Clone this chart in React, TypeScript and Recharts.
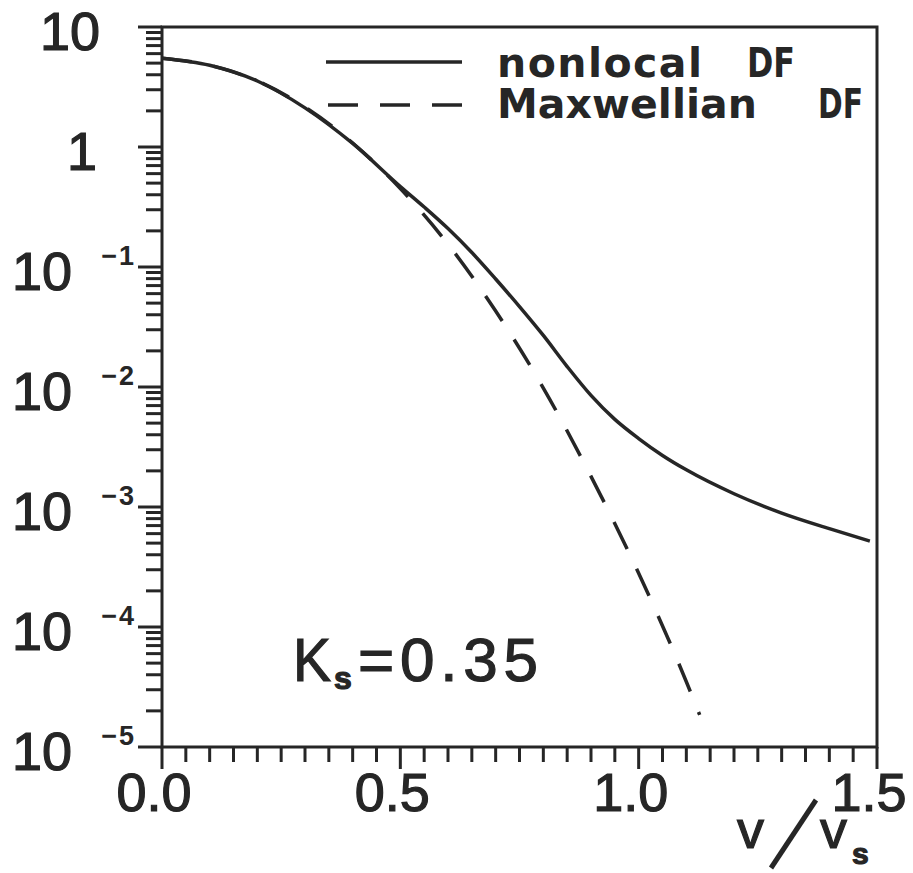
import { LineChart, Line, XAxis, YAxis, ReferenceArea } from 'recharts'

// velocity v/v_s and distribution function values
const nonlocalV = [0, 0.1, 0.2, 0.3, 0.4, 0.5, 0.55, 0.6, 0.65, 0.7, 0.75, 0.8, 0.85, 0.9, 0.95, 1.0, 1.05, 1.1, 1.2, 1.3, 1.4, 1.485]
const nonlocalF = [5.5, 4.8, 3.55, 2.12, 1.07, 0.468, 0.316, 0.209, 0.132, 0.0794, 0.0468, 0.0269, 0.0148, 0.00851, 0.00537, 0.00372, 0.00269, 0.00204, 0.00129, 0.00089, 0.00066, 0.00052]

const maxwellV = [0, 0.1, 0.2, 0.3, 0.4, 0.5, 0.6, 0.7, 0.8, 0.9, 1.0, 1.1, 1.128]
const maxwellF = [5.5, 4.8, 3.55, 2.15, 1.08, 0.45, 0.155, 0.043, 0.0098, 0.0018, 0.00028, 0.000035, 0.0000185]

const xMajorTicks = [0, 0.5, 1.0, 1.5]
const yMajorTicks = [1e-5, 1e-4, 1e-3, 1e-2, 1e-1, 1, 10]
const yMinorMantissas = [2, 3, 4, 5, 6, 7, 8, 9]

const nonlocalData = nonlocalV.map((v, i) => ({ v, f: nonlocalF[i] }))
const maxwellData = maxwellV.map((v, i) => ({ v, f: maxwellF[i] }))

const xTicks = Array.from({ length: 31 }, (_, i) => i * 0.05)
const yTicks = yMajorTicks.flatMap((d, i) =>
  i < yMajorTicks.length - 1 ? [d, ...yMinorMantissas.map((m) => m * d)] : [d]
)

const INK = '#262626'
const NUM_FONT = '"Liberation Sans", Arial, sans-serif'
const TEXT_FONT = '"DejaVu Sans", "Liberation Sans", sans-serif'
const DASH = '30 22'
// a thin outline on the glyphs gives the heavier pen-plotter look
const pen = { stroke: INK, strokeWidth: 1.2 }

function XTick({ x, y, payload }: any) {
  const v = payload.value as number
  const major = xMajorTicks.some((t) => Math.abs(t - v) < 1e-6)
  return (
    <g>
      <line x1={x} x2={x} y1={y} y2={y + (major ? 22 : 15)} stroke={INK} strokeWidth={3} />
      {major && (
        <text x={x - 8} y={y + 64} textAnchor="middle" fontSize={54} fontFamily={NUM_FONT} fill={INK} {...pen}>
          {v.toFixed(1)}
        </text>
      )}
    </g>
  )
}

function YTick({ x, y, payload }: any) {
  const v = payload.value as number
  const lg = Math.log10(v)
  const e = Math.round(lg)
  const major = Math.abs(lg - e) < 1e-6
  let label = null
  if (major) {
    if (e === 1 || e === 0) {
      label = (
        <text x={e === 1 ? x - 62 : x - 65} y={y + 23} textAnchor="end" fontSize={54} fontFamily={NUM_FONT} fill={INK} {...pen}>
          {e === 1 ? '10' : '1'}
        </text>
      )
    } else {
      label = (
        <g>
          <text x={x - 90} y={y + 23} textAnchor="end" fontSize={54} fontFamily={NUM_FONT} fill={INK} {...pen}>
            10
          </text>
          <text x={x - 26} y={y - 2} textAnchor="end" fontSize={27} fontWeight="bold" fontFamily={NUM_FONT} fill={INK} letterSpacing={2}>
            {'\u2212' + Math.abs(e)}
          </text>
        </g>
      )
    }
  }
  return (
    <g>
      <line x1={x - (major ? 24 : 16)} x2={x} y1={y} y2={y} stroke={INK} strokeWidth={3} />
      {label}
    </g>
  )
}

export default function App() {
  return (
    <div style={{ position: 'absolute', left: 0, top: 0, width: 913, height: 873, background: '#fff' }}>
      <LineChart
        width={913}
        height={873}
        margin={{ top: 27, right: 36, bottom: 125, left: 161 }}
        style={{ fontFamily: NUM_FONT }}
      >
        <XAxis
          dataKey="v"
          type="number"
          domain={[0, 1.5]}
          ticks={xTicks}
          interval={0}
          height={1}
          tickSize={0}
          tickMargin={0}
          axisLine={false}
          tickLine={false}
          tick={<XTick />}
          allowDataOverflow
        />
        <YAxis
          dataKey="f"
          type="number"
          scale="log"
          domain={[1e-5, 10]}
          ticks={yTicks}
          interval={0}
          width={1}
          tickSize={0}
          tickMargin={0}
          axisLine={false}
          tickLine={false}
          tick={<YTick />}
          allowDataOverflow
        />
        <ReferenceArea x1={0} x2={1.5} y1={1e-5} y2={10} fill="none" stroke={INK} strokeWidth={3} fillOpacity={0} />
        <Line
          data={maxwellData}
          dataKey="f"
          type="monotone"
          stroke={INK}
          strokeWidth={3.5}
          strokeDasharray={DASH}
          dot={false}
          isAnimationActive={false}
          name="Maxwellian DF"
        />
        <Line
          data={nonlocalData}
          dataKey="f"
          type="monotone"
          stroke={INK}
          strokeWidth={3.5}
          dot={false}
          isAnimationActive={false}
          name="nonlocal DF"
        />
      </LineChart>
      {/* legend and annotations drawn on top in page coordinates */}
      <svg width={913} height={873} style={{ position: 'absolute', left: 0, top: 0, pointerEvents: 'none' }}>
        <line x1={326} x2={462} y1={62} y2={62} stroke={INK} strokeWidth={3.5} />
        <line x1={328} x2={464} y1={105} y2={105} stroke={INK} strokeWidth={3.5} strokeDasharray={DASH} />
        <g fontFamily={TEXT_FONT} fontSize={41} fontWeight="bold" fill={INK}>
          <text x={497} y={77} textLength={205} lengthAdjust="spacing">nonlocal</text>
          <text x={747} y={77} textLength={48} lengthAdjust="spacingAndGlyphs">DF</text>
          <text x={497} y={118} textLength={260} lengthAdjust="spacing">Maxwellian</text>
          <text x={818} y={118} textLength={45} lengthAdjust="spacingAndGlyphs">DF</text>
        </g>
        <g fontFamily={NUM_FONT} fill={INK} {...pen}>
          <text x={293} y={681} fontSize={62} textLength={38} lengthAdjust="spacingAndGlyphs">K</text>
          <text x={334} y={689} fontSize={32} fontWeight="bold">s</text>
          <text x={358} y={681} fontSize={62} textLength={180} lengthAdjust="spacing">=0.35</text>
        </g>
        <g fontFamily={NUM_FONT} fill={INK} {...pen}>
          <text x={737} y={848} fontSize={54}>v</text>
          <line x1={771} y1={868} x2={816} y2={800} stroke={INK} strokeWidth={5} />
          <text x={820} y={848} fontSize={54}>v</text>
          <text x={852} y={864} fontSize={30} fontWeight="bold">s</text>
        </g>
      </svg>
    </div>
  )
}
